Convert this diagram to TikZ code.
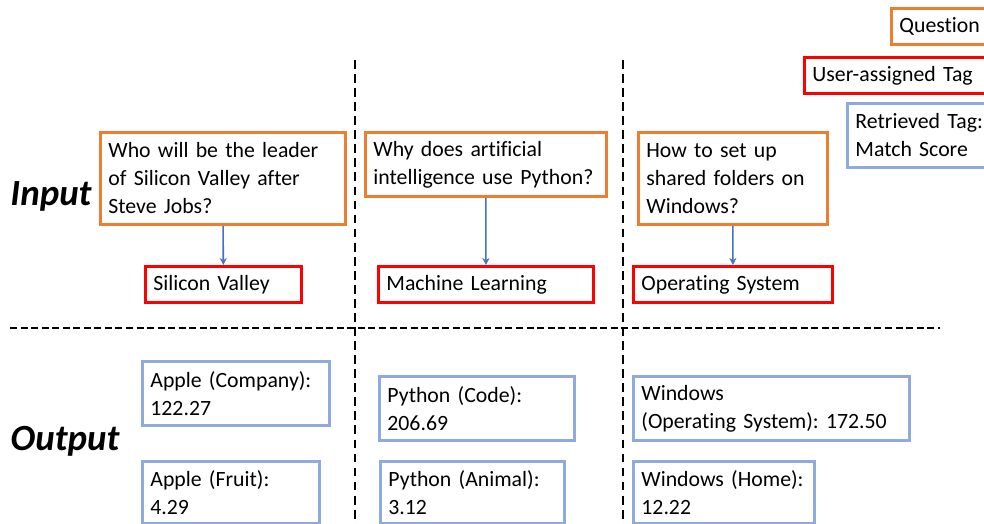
\documentclass[tikz,border=0pt]{standalone}
\usepackage{fontspec}
\setmainfont{Carlito}[Ligatures=NoCommon]
\frenchspacing
\usetikzlibrary{arrows.meta}
\definecolor{qorange}{RGB}{237,125,49}
\definecolor{tagred}{RGB}{255,0,0}
\definecolor{retblue}{RGB}{143,170,220}
\definecolor{arrblue}{RGB}{68,114,196}
\tikzset{
  box/.style={draw, line width=1.6pt, anchor=north west, align=left,
    inner xsep=0.16cm, inner ysep=0pt, font=\fontsize{12.4}{15.9}\selectfont},
  qbox/.style={box, draw=qorange},
  tagbox/.style={box, draw=tagred, minimum height=0.72cm},
  retbox/.style={box, draw=retblue, minimum height=1.28cm},
  rowlabel/.style={font=\fontsize{21}{25}\selectfont\bfseries\itshape},
  vdivider/.style={line width=1.1pt, dash pattern=on 5pt off 3pt},
  hdivider/.style={line width=1.1pt, dash pattern=on 4pt off 2pt}
}
\begin{document}
\begin{tikzpicture}[x=0.02cm, y=-0.02cm]
  \useasboundingbox (0,0) rectangle (984,524);
  \clip (0,0) rectangle (984,524);
  \draw[vdivider] (355,60) -- (355,524);
  \draw[vdivider] (623,60) -- (623,524);
  \draw[hdivider] (10,328) -- (940,328);
  \node[rowlabel] (input) at (51,196) {Input};
  \node[rowlabel] (output) at (65,441) {Output};
  \node[qbox, minimum height=1.84cm, text width=4.58cm] (q1) at (99,131)
    {Who will be the leader\\of Silicon Valley after\\Steve Jobs?};
  \node[qbox, minimum height=1.28cm, text width=4.50cm] (q2) at (364,131)
    {Why does artificial\\intelligence use Python?};
  \node[qbox, minimum height=1.84cm, text width=3.46cm] (q3) at (637,131)
    {How to set up\\shared folders on\\Windows?};
  \node[tagbox, text width=2.80cm] (t1) at (144,265) {Silicon Valley};
  \node[tagbox, text width=3.98cm] (t2) at (377,265) {Machine Learning};
  \node[tagbox, text width=3.66cm] (t3) at (632,265) {Operating System};
  \begin{scope}[-{Stealth[length=4pt,width=4pt]}, arrblue, line width=0.9pt]
    \draw (q1) to (t1);
    \draw (q2) to (t2);
    \draw (q3) to (t3);
  \end{scope}
  \node[retbox, text width=3.42cm] (r1) at (141,360) {Apple (Company):\\122.27};
  \node[retbox, text width=3.58cm] (r2) at (378,375) {Python (Code):\\206.69};
  \node[retbox, text width=5.20cm] (r3) at (632,375) {Windows\\(Operating System): 172.50};
  \node[retbox, minimum height=1.24cm, text width=3.22cm] (r4) at (141,460) {Apple (Fruit):\\4.29};
  \node[retbox, minimum height=1.24cm, text width=3.36cm] (r5) at (379,460) {Python (Animal):\\3.12};
  \node[retbox, minimum height=1.24cm, text width=3.30cm] (r6) at (632,460) {Windows (Home):\\12.22};
  \node[qbox, minimum height=0.72cm, text width=1.88cm] (legq) at (890,7) {Question};
  \node[tagbox, text width=3.68cm] (legt) at (803,56) {User-assigned Tag};
  \node[retbox, text width=2.88cm] (legr) at (846,102) {Retrieved Tag:\\Match Score};
\end{tikzpicture}
\end{document}
